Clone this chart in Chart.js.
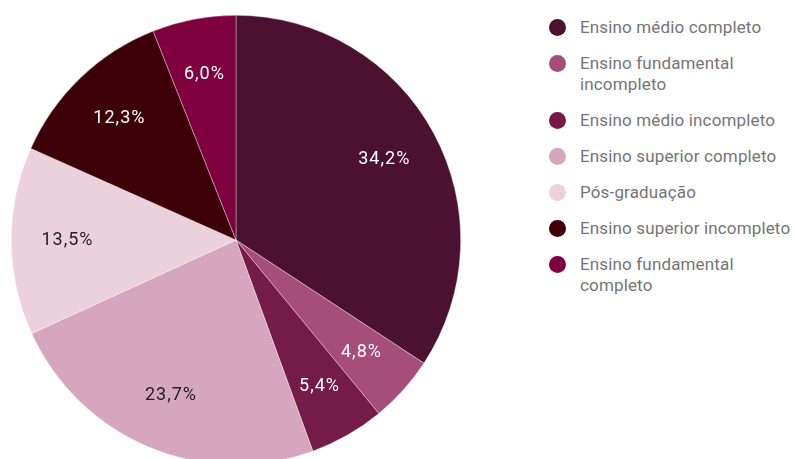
<!DOCTYPE html>
<html>
<head>
<meta charset="utf-8">
<script src="https://cdn.jsdelivr.net/npm/chart.js@4.4.0/dist/chart.umd.min.js"></script>
<style>
  html, body { margin: 0; padding: 0; background: #fff; }
  body { width: 794px; height: 459px; overflow: hidden; position: relative; font-family: Roboto, sans-serif; }
  #pie-wrap { position: absolute; left: 0; top: 0; width: 472px; height: 480px; }
  #legend { position: absolute; left: 549px; top: 17px; width: 245px; margin: 0; padding: 0; list-style: none; }
  #legend li { position: relative; padding-left: 31px; margin-bottom: 15px; font-size: 17px; line-height: 21px; letter-spacing: 0.15px; color: #757575; width: 214px; }
  #legend li span { position: absolute; left: 0; top: 2px; width: 17px; height: 17px; border-radius: 50%; }
</style>
</head>
<body>
<div id="pie-wrap"><canvas id="pie-escolaridade"></canvas></div>
<ul id="legend"></ul>
<script>
const categorias = [
  "Ensino médio completo",
  "Ensino fundamental incompleto",
  "Ensino médio incompleto",
  "Ensino superior completo",
  "Pós-graduação",
  "Ensino superior incompleto",
  "Ensino fundamental completo",
];
const percentuais = [34.2, 4.8, 5.4, 23.7, 13.5, 12.3, 6.0];
const cores = ["#4c1130", "#a64d79", "#741b47", "#d5a6bd", "#ead1dc", "#3d0009", "#7f003f"];
const corRotulo = ["#ffffff", "#ffffff", "#ffffff", "#222222", "#222222", "#ffffff", "#ffffff"];

// percent labels inside each slice
const rotulosFatias = {
  id: "rotulosFatias",
  afterDatasetsDraw(chart) {
    const ctx = chart.ctx;
    const meta = chart.getDatasetMeta(0);
    ctx.save();
    ctx.font = "18px Roboto";
    ctx.letterSpacing = "1px";
    ctx.textAlign = "center";
    ctx.textBaseline = "middle";
    meta.data.forEach((arc, i) => {
      const p = arc.getProps(["x", "y", "startAngle", "endAngle", "outerRadius"], true);
      const meio = (p.startAngle + p.endAngle) / 2;
      const r = p.outerRadius * 0.75;
      ctx.fillStyle = corRotulo[i];
      ctx.fillText(percentuais[i].toFixed(1).replace(".", ",") + "%",
        p.x + Math.cos(meio) * r, p.y + Math.sin(meio) * r);
    });
    ctx.restore();
  },
};

const config = {
  type: "pie",
  data: {
    labels: categorias,
    datasets: [
      {
        data: percentuais,
        backgroundColor: cores,
        borderColor: "rgba(255,255,255,0.6)",
        borderWidth: 0.6,
      },
    ],
  },
  options: {
    responsive: true,
    maintainAspectRatio: false,
    animation: false,
    events: [],
    layout: {
      padding: { left: 11, right: 11, top: 15, bottom: 15 },
    },
    plugins: {
      legend: { display: false },
      tooltip: { enabled: false },
    },
  },
  plugins: [rotulosFatias],
};

const ctx = document.getElementById("pie-escolaridade").getContext("2d");
const grafico = new Chart(ctx, config);

// html legend built from the chart's own legend items
const legenda = document.getElementById("legend");
grafico.options.plugins.legend.labels.generateLabels(grafico).forEach((item) => {
  const li = document.createElement("li");
  const bolinha = document.createElement("span");
  bolinha.style.background = item.fillStyle;
  li.appendChild(bolinha);
  li.appendChild(document.createTextNode(item.text));
  legenda.appendChild(li);
});
</script>
</body>
</html>
